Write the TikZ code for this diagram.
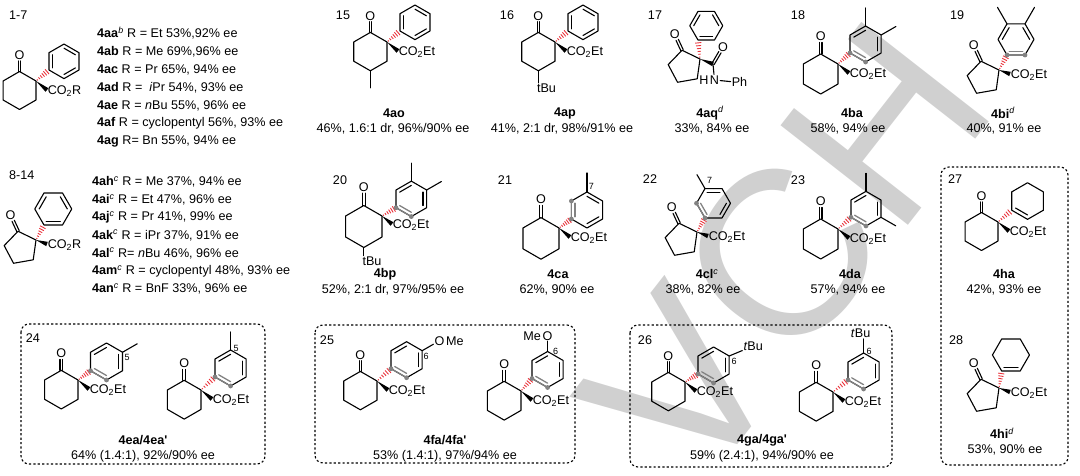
\documentclass[tikz,border=0pt]{standalone}
\usepackage{fontspec}
\setmainfont{Liberation Sans}
\usepackage{tikz}
\usetikzlibrary{calc}
\usetikzlibrary{positioning}

\definecolor{hashred}{RGB}{234,52,60}
\definecolor{wmgray}{RGB}{208,208,208}
\definecolor{dotgray}{RGB}{130,130,130}

\newcommand{\fs}{\fontsize{12.6}{15}\selectfont}
\newcommand{\fsmall}{\fontsize{9}{10}\selectfont}

% bonds
\newcommand{\dbond}[2]{%
  \draw[bond] ($(#1)!1.3pt!90:(#2)$) -- ($(#2)!1.3pt!-90:(#1)$);
  \draw[bond] ($(#1)!1.3pt!-90:(#2)$) -- ($(#2)!1.3pt!90:(#1)$);}
\newcommand{\wedgeb}[2]{%
  \fill (#1) -- ($(#2)!2.3pt!90:(#1)$) -- ($(#2)!2.3pt!-90:(#1)$) -- cycle;}
\newcommand{\hashb}[2]{%
  \foreach \hs/\hw in {0.1/0.6pt,0.25/1.1pt,0.4/1.6pt,0.55/2.1pt,0.7/2.6pt,0.85/3.1pt}
    {\draw[hashline] ($(#1)!\hs!(#2)!\hw!90:(#2)$) -- ($(#1)!\hs!(#2)!\hw!-90:(#2)$);}}

% rings
\newcommand{\ring}[4]{%
  \coordinate (#1c) at (#2);
  \foreach \k in {1,...,6}
    {\coordinate (#1-\k) at ($(#1c)+({#4+60*(\k-1)}:#3)$);}
  \draw[bond] (#1-1) -- (#1-2) -- (#1-3) -- (#1-4) -- (#1-5) -- (#1-6) -- cycle;}
\newcommand{\inner}[3]{\draw[bond] ($(#1c)!0.76!(#1-#2)$) -- ($(#1c)!0.76!(#1-#3)$);}
\newcommand{\hilite}[3]{%
  \draw[hlbond] (#1-#2) -- (#1-#3);
  \draw[hlbond] ($(#1c)!0.76!(#1-#2)$) -- ($(#1c)!0.76!(#1-#3)$);
  \fill[dotgray] (#1-#2) circle (2.4) (#1-#3) circle (2.4);}
\newcommand{\arylP}[4]{%
  \coordinate (#1i) at ($(#2)+(#3)$);
  \hashb{#2}{#1i}
  \ring{#1}{$(#1i)+(30:#4)$}{#4}{30}}
\newcommand{\arylF}[4]{%
  \coordinate (#1i) at ($(#2)+(#3)$);
  \hashb{#2}{#1i}
  \ring{#1}{$(#1i)+(60:#4)$}{#4}{0}}

% ketones
\newcommand{\hexone}[3]{%
  \coordinate (#1q) at (#2);
  \coordinate (#1c1) at ($(#1q)+#3*(-17.32,10)$);
  \coordinate (#1c3) at ($(#1q)+#3*(0,-20)$);
  \coordinate (#1c4) at ($(#1q)+#3*(-17.32,-30)$);
  \coordinate (#1c5) at ($(#1q)+#3*(-34.64,-20)$);
  \coordinate (#1c6) at ($(#1q)+#3*(-34.64,0)$);
  \draw[bond] (#1c1) -- (#1q) -- (#1c3) -- (#1c4) -- (#1c5) -- (#1c6) -- cycle;
  \node[atom] (#1o) at ($(#1c1)+#3*(0,17.5)$) {O};
  \coordinate (#1oe) at ($(#1o)!6pt!(#1c1)$);
  \dbond{#1c1}{#1oe}}
\newcommand{\pentone}[3]{%
  \coordinate (#1q) at (#2);
  \coordinate (#1c1) at ($(#1q)+#3*(-17.95,8.74)$);
  \coordinate (#1c3) at ($(#1q)+#3*(-2.77,-19.81)$);
  \coordinate (#1c4) at ($(#1q)+#3*(-22.45,-23.28)$);
  \coordinate (#1c5) at ($(#1q)+#3*(-31.83,-5.63)$);
  \draw[bond] (#1c1) -- (#1q) -- (#1c3) -- (#1c4) -- (#1c5) -- cycle;
  \node[atom] (#1o) at ($(#1c1)+#3*(-7.4,15.9)$) {O};
  \coordinate (#1oe) at ($(#1o)!6pt!(#1c1)$);
  \dbond{#1c1}{#1oe}}
\newcommand{\ester}[4]{%
  \coordinate (#1w) at ($(#2)+(#3)$);
  \wedgeb{#2}{#1w}
  \node[lbl,anchor=base west] (#1e) at ($(#1w)+(0.6,-4.5)$) {#4};}

\begin{document}
\begin{tikzpicture}[x=1pt, y=1pt, font=\fs,
    bond/.style={line width=1.1pt, line cap=round, line join=round},
    hashline/.style={hashred, line width=0.9pt},
    hlbond/.style={dotgray, line width=1.3pt, line cap=round},
    atom/.style={inner sep=1pt, text height=9pt, text depth=0pt},
    lbl/.style={inner sep=0pt},
    small/.style={inner sep=0pt, font=\fsmall},
    cname/.style={inner sep=0pt, font=\fs\bfseries},
    dotbox/.style={line width=1.1pt, dash pattern=on 2.2pt off 2.2pt, rounded corners=8pt}]
  \useasboundingbox (0,0) rectangle (1080,-476);

  % watermark
  \node[rotate=52, text=wmgray, inner sep=0pt, font=\fontsize{235}{235}\selectfont] (wm) at (785,-252) {VCH};

  % boxes
  \draw[dotbox] (21,-324) rectangle (265,-464);
  \draw[dotbox] (315,-325) rectangle (575,-463);
  \draw[dotbox] (630,-325) rectangle (892,-467);
  \draw[dotbox] (941,-167) rectangle (1068,-465);

  % 1-7
  \node[lbl,anchor=west] (l1) at (9,-15) {1-7};
  \hexone{m}{36,-81}{0.95}
  \arylP{mr}{mq}{13,11}{17.3}
  \inner{mr}{1}{2}\inner{mr}{3}{4}\inner{mr}{5}{6}
  \ester{m}{mq}{11,-9}{CO\textsubscript{2}R}
  \foreach \txt [count=\i] in {
      {\textbf{4aa}\textsuperscript{\textit{b}} R = Et 53\%,92\% ee},
      {\textbf{4ab} R = Me 69\%,96\% ee},
      {\textbf{4ac} R = Pr 65\%, 94\% ee},
      {\textbf{4ad} R = ~\textit{i}Pr 54\%, 93\% ee},
      {\textbf{4ae} R = \textit{n}Bu 55\%, 96\% ee},
      {\textbf{4af} R = cyclopentyl 56\%, 93\% ee},
      {\textbf{4ag} R= Bn 55\%, 94\% ee}}
    \node[lbl,anchor=west] (ra\i) at (97,{-33.3-18.07*(\i-1)}) {\txt};

  % 8-14
  \node[lbl,anchor=west] (l8) at (9,-175) {8-14};
  \pentone{n}{36,-240}{1}
  \arylF{nr}{nq}{8,15}{18.5}
  \inner{nr}{1}{2}\inner{nr}{3}{4}\inner{nr}{5}{6}
  \ester{n}{nq}{11,-4}{CO\textsubscript{2}R}
  \foreach \txt [count=\i] in {
      {\textbf{4ah}\textsuperscript{\textit{c}} R = Me 37\%, 94\% ee},
      {\textbf{4ai}\textsuperscript{\textit{c}} R = Et 47\%, 96\% ee},
      {\textbf{4aj}\textsuperscript{\textit{c}} R = Pr 41\%, 99\% ee},
      {\textbf{4ak}\textsuperscript{\textit{c}} R = iPr 37\%, 91\% ee},
      {\textbf{4al}\textsuperscript{\textit{c}} R= \textit{n}Bu 46\%, 96\% ee},
      {\textbf{4am}\textsuperscript{\textit{c}} R = cyclopentyl 48\%, 93\% ee},
      {\textbf{4an}\textsuperscript{\textit{c}} R = BnF 33\%, 96\% ee}}
    \node[lbl,anchor=west] (rb\i) at (92,{-181.7-17.9*(\i-1)}) {\txt};

  % 15
  \node[lbl] (l15) at (343,-15) {15};
  \hexone{ao}{387,-42}{0.96}
  \arylP{aor}{aoq}{13,11}{17.3}
  \inner{aor}{1}{2}\inner{aor}{3}{4}\inner{aor}{5}{6}
  \draw[bond] (aoc4) -- ++(0,-17);
  \ester{ao}{aoq}{11,-9}{CO\textsubscript{2}Et}
  \node[cname] (n15) at (394,-113) {4ao};
  \node[lbl] (y15) at (393,-129) {46\%, 1.6:1 dr, 96\%/90\% ee};

  % 16
  \node[lbl] (l16) at (507,-15) {16};
  \hexone{ap}{555,-42}{0.96}
  \arylP{apr}{apq}{13,11}{17.3}
  \inner{apr}{1}{2}\inner{apr}{3}{4}\inner{apr}{5}{6}
  \node[lbl,anchor=north west,inner sep=1pt] (apt) at ($(apc4)+(-2.5,-12)$) {tBu};
  \draw[bond] (apc4) -- (apc4 |- apt.north);
  \ester{ap}{apq}{11,-9}{CO\textsubscript{2}Et}
  \node[cname] (n16) at (565,-113) {4ap};
  \node[lbl] (y16) at (562,-129) {41\%, 2:1 dr, 98\%/91\% ee};

  % 17
  \node[lbl] (l17) at (655,-15) {17};
  \pentone{aq}{700,-59}{1}
  \arylF{aqr}{aqq}{-2,19}{16.5}
  \inner{aqr}{1}{2}\inner{aqr}{3}{4}\inner{aqr}{5}{6}
  \coordinate (aqa) at ($(aqq)+(13,-5)$);
  \wedgeb{aqq}{aqa}
  \node[atom] (aqo) at ($(aqa)+(10,17)$) {O};
  \coordinate (aqoe) at ($(aqo)!6pt!(aqa)$);
  \dbond{aqa}{aqoe}
  \node[atom] (aqn) at ($(aqa)+(1.5,-16)$) {N};
  \node[atom,anchor=east,inner sep=0.2pt] (aqh) at (aqn.west) {H};
  \node[atom] (aqph) at ($(aqn)+(25,-2.5)$) {Ph};
  \draw[bond] (aqa) -- (aqn);
  \draw[bond] (aqn) -- (aqph);
  \node[cname] (n17) at (710,-113) {4aq\textsuperscript{\normalfont\textit{d}}};
  \node[lbl] (y17) at (712,-129) {33\%, 84\% ee};

  % 18
  \node[lbl] (l18) at (798,-15) {18};
  \hexone{ba}{838,-64}{1}
  \arylP{bar}{baq}{12,11}{18}
  \inner{bar}{2}{3}\inner{bar}{6}{1}\hilite{bar}{4}{5}
  \draw[bond] (bar-2) -- ++(90:18);
  \draw[bond] (bar-1) -- ++(30:17);
  \ester{ba}{baq}{11,-9}{CO\textsubscript{2}Et}
  \node[cname] (n18) at (852,-113) {4ba};
  \node[lbl] (y18) at (848,-129) {58\%, 94\% ee};

  % 19
  \node[lbl] (l19) at (957,-15) {19};
  \pentone{bi}{999,-70}{1}
  \arylF{bir}{biq}{8,15}{18}
  \inner{bir}{1}{2}\inner{bir}{3}{4}\hilite{bir}{5}{6}
  \draw[bond] (bir-3) -- ++(120:19);
  \draw[bond] (bir-2) -- ++(60:19);
  \ester{bi}{biq}{11,-4}{CO\textsubscript{2}Et}
  \node[cname] (n19) at (1003,-113) {4bi\textsuperscript{\normalfont\textit{d}}};
  \node[lbl] (y19) at (1004,-129) {40\%, 91\% ee};

  % 20
  \node[lbl] (l20) at (340,-180) {20};
  \hexone{bp}{382,-216}{1.05}
  \arylP{bpr}{bpq}{14,8.3}{17.7}
  \inner{bpr}{2}{3}\inner{bpr}{6}{1}\hilite{bpr}{4}{5}
  \draw[bond] (bpr-2) -- ++(90:18);
  \draw[bond] (bpr-1) -- ++(30:17);
  \node[lbl,anchor=north west,inner sep=1pt] (bpt) at ($(bpc4)+(-2.5,-8)$) {tBu};
  \draw[bond] (bpc4) -- (bpc4 |- bpt.north);
  \ester{bp}{bpq}{10,-8}{CO\textsubscript{2}Et}
  \node[cname] (n20) at (385,-274) {4bp};
  \node[lbl] (y20) at (393,-290) {52\%, 2:1 dr, 97\%/95\% ee};

  % 21
  \node[lbl] (l21) at (505,-180) {21};
  \hexone{ca}{559,-228}{1.04}
  \arylP{car}{caq}{12.4,9}{18}
  \inner{car}{1}{2}\inner{car}{5}{6}\hilite{car}{3}{4}
  \draw[bond] (car-2) -- ++(90:19);
  \node[small] (ca7) at ($(car-2)+(4.5,5.5)$) {7};
  \ester{ca}{caq}{11,-9}{CO\textsubscript{2}Et}
  \node[cname] (n21) at (558,-274) {4ca};
  \node[lbl] (y21) at (557,-290) {62\%, 90\% ee};

  % 22
  \node[lbl] (l22) at (650,-179) {22};
  \pentone{cl}{697,-232}{1}
  \arylF{clr}{clq}{8,14}{17}
  \inner{clr}{2}{3}\inner{clr}{6}{1}\hilite{clr}{4}{5}
  \draw[bond] (clr-3) -- ++(120:16);
  \node[small] (cl7) at ($(clr-3)+(4.5,8)$) {7};
  \ester{cl}{clq}{11,-4}{CO\textsubscript{2}Et}
  \node[cname] (n22) at (707,-274) {4cl\textsuperscript{\normalfont\textit{c}}};
  \node[lbl] (y22) at (703,-290) {38\%, 82\% ee};

  % 23
  \node[lbl] (l23) at (798,-180) {23};
  \hexone{da}{838,-229}{1}
  \arylP{dar}{daq}{13,11.7}{17.3}
  \inner{dar}{2}{3}\inner{dar}{6}{1}\hilite{dar}{4}{5}
  \draw[bond] (dar-2) -- ++(90:18);
  \draw[bond] (dar-6) -- ++(-30:17);
  \ester{da}{daq}{11,-9}{CO\textsubscript{2}Et}
  \node[cname] (n23) at (850,-274) {4da};
  \node[lbl] (y23) at (848,-290) {57\%, 94\% ee};

  % 27
  \node[lbl] (l27) at (955,-179) {27};
  \hexone{ha}{998,-222}{0.95}
  \arylP{har}{haq}{13.7,11.8}{18.3}
  \inner{har}{4}{5}
  \ester{ha}{haq}{11,-9}{CO\textsubscript{2}Et}
  \node[cname] (n27) at (1004,-274) {4ha};
  \node[lbl] (y27) at (1004,-290) {42\%, 93\% ee};

  % 28
  \node[lbl] (l28) at (956,-340) {28};
  \pentone{hi}{999,-388}{1}
  \arylF{hir}{hiq}{2.7,17}{18.5}
  \inner{hir}{5}{6}
  \ester{hi}{hiq}{11,-4}{CO\textsubscript{2}Et}
  \node[cname] (n28) at (1002,-433) {4hi\textsuperscript{\normalfont\textit{d}}};
  \node[lbl] (y28) at (1005,-450) {53\%, 90\% ee};

  % 24
  \node[lbl] (l24) at (33,-338) {24};
  \hexone{ea}{78,-380}{0.965}
  \arylP{ear}{eaq}{12.5,9.25}{18.5}
  \inner{ear}{2}{3}\inner{ear}{6}{1}\hilite{ear}{4}{5}
  \draw[bond] (ear-1) -- ++(30:17);
  \node[small] (ea5) at ($(ear-1)+(4.5,-5.5)$) {5};
  \ester{ea}{eaq}{11,-9}{CO\textsubscript{2}Et}
  \hexone{eb}{201,-390}{0.97}
  \arylP{ebr}{ebq}{14,13}{18}
  \inner{ebr}{2}{3}\inner{ebr}{6}{1}\hilite{ebr}{4}{5}
  \draw[bond] (ebr-2) -- ++(90:18);
  \node[small] (eb5) at ($(ebr-2)+(5.5,1.5)$) {5};
  \ester{eb}{ebq}{11,-9}{CO\textsubscript{2}Et}
  \node[cname] (n24) at (143,-440) {4ea/4ea\textquotesingle};
  \node[lbl] (y24) at (143,-456) {64\% (1.4:1), 92\%/90\% ee};

  % 25
  \node[lbl] (l25) at (327,-340) {25};
  \hexone{fa}{377,-381}{0.96}
  \arylP{far}{faq}{14,12.3}{18}
  \inner{far}{2}{3}\inner{far}{6}{1}\hilite{far}{4}{5}
  \node[atom] (fao) at ($(far-1)+(30:20)$) {O};
  \node[atom,anchor=west,inner sep=0.3pt] (fame) at (fao.east) {Me};
  \draw[bond] (far-1) -- (fao);
  \node[small] (fa6) at ($(far-1)+(4,-5.5)$) {6};
  \ester{fa}{faq}{11,-9}{CO\textsubscript{2}Et}
  \hexone{fb}{521,-391}{0.97}
  \arylP{fbr}{fbq}{11,12.5}{18}
  \inner{fbr}{2}{3}\inner{fbr}{6}{1}\hilite{fbr}{4}{5}
  \node[atom] (fbo) at ($(fbr-2)+(0,16)$) {O};
  \node[atom,anchor=east,inner sep=0.3pt] (fbme) at (fbo.west) {Me};
  \draw[bond] (fbr-2) -- (fbo);
  \node[small] (fb6) at ($(fbr-2)+(8,0)$) {6};
  \ester{fb}{fbq}{11,-9}{CO\textsubscript{2}Et}
  \node[cname] (n25) at (445,-440) {4fa/4fa\textquotesingle};
  \node[lbl] (y25) at (445,-456) {53\% (1.4:1), 97\%/94\% ee};

  % 26
  \node[lbl] (l26) at (645,-340) {26};
  \hexone{ga}{685,-382}{0.96}
  \arylP{gar}{gaq}{13,8}{18}
  \inner{gar}{2}{3}\inner{gar}{6}{1}\hilite{gar}{4}{5}
  \node[atom] (gat) at ($(gar-1)+(24,10)$) {\textit{t}Bu};
  \draw[bond] (gar-1) -- (gat);
  \node[small] (ga6) at ($(gar-1)+(5,-5.5)$) {6};
  \ester{ga}{gaq}{11,-9}{CO\textsubscript{2}Et}
  \hexone{gb}{833,-392}{0.97}
  \arylP{gbr}{gbq}{15,12}{18}
  \inner{gbr}{2}{3}\inner{gbr}{6}{1}\hilite{gbr}{4}{5}
  \node[atom,anchor=south] (gbt) at ($(gbr-2)+(-3,14)$) {\textit{t}Bu};
  \draw[bond] (gbr-2) -- (gbr-2 |- gbt.south);
  \node[small] (gb6) at ($(gbr-2)+(5.5,1.5)$) {6};
  \ester{gb}{gbq}{11,-9}{CO\textsubscript{2}Et}
  \node[cname] (n26) at (762,-440) {4ga/4ga\textquotesingle};
  \node[lbl] (y26) at (762,-456) {59\% (2.4:1), 94\%/90\% ee};
\end{tikzpicture}
\end{document}
